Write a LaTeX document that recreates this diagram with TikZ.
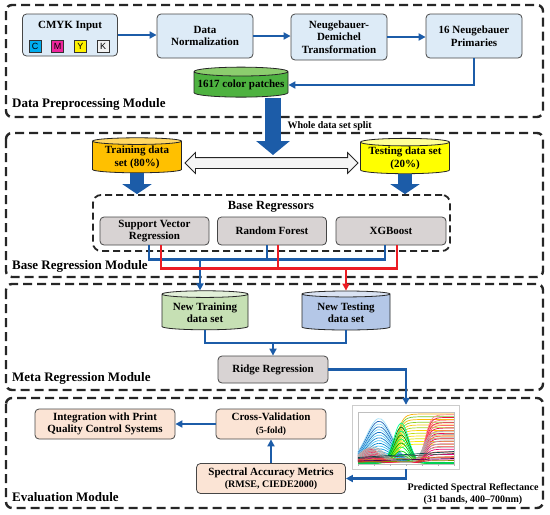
\documentclass[tikz,border=0pt]{standalone}
\usepackage{fontspec}
\setmainfont{Liberation Serif}
\newfontfamily\chipfont{Liberation Sans}
\usepackage{xcolor}
\definecolor{flowblue}{RGB}{28,92,168}
\definecolor{flowred}{RGB}{236,28,36}
\definecolor{prepfill}{RGB}{221,235,247}
\definecolor{regfill}{RGB}{216,211,211}
\definecolor{evalfill}{RGB}{251,228,213}
\definecolor{edgegray}{RGB}{70,70,70}
\definecolor{patchgreen}{RGB}{78,178,64}
\definecolor{patchtop}{RGB}{140,205,110}
\definecolor{trainorange}{RGB}{255,192,0}
\definecolor{traintop}{RGB}{255,215,100}
\definecolor{testyellow}{RGB}{255,255,0}
\definecolor{testtop}{RGB}{255,255,150}
\definecolor{newtrainfill}{RGB}{198,224,180}
\definecolor{newtraintop}{RGB}{226,240,217}
\definecolor{newtestfill}{RGB}{180,199,231}
\definecolor{newtesttop}{RGB}{218,227,243}
\usepackage{tikz}
\usetikzlibrary{arrows.meta, positioning, calc, shapes.geometric, shapes.arrows}

\begin{document}
\begin{tikzpicture}[x=1pt, y=-1pt, >={Triangle[length=7pt,width=7pt]},
  module/.style={draw=black!85, line width=2.4pt, dash pattern=on 9pt off 5pt, rounded corners=6pt},
  modlabel/.style={anchor=west, font=\fontsize{13}{15}\selectfont\bfseries, inner sep=0pt},
  box/.style={draw=edgegray, line width=0.8pt, rounded corners=4pt, align=center, font=\fontsize{11}{12.5}\selectfont\bfseries, inner sep=2pt},
  prepbox/.style={box, fill=prepfill, minimum width=96pt, minimum height=44pt},
  regbox/.style={box, fill=regfill, minimum height=28pt},
  evalbox/.style={box, fill=evalfill, minimum height=30pt},
  store/.style={cylinder, shape border rotate=90, aspect=0.1, draw=black!85, line width=0.8pt, cylinder uses custom fill, align=center, font=\fontsize{11}{12.5}\selectfont\bfseries, inner sep=1pt},
  flow/.style={->, flowblue, line width=2.2pt},
  bline/.style={flowblue, line width=2.2pt},
  rline/.style={flowred, line width=2.2pt},
  fat/.style={flowblue, line width=16pt, -{Triangle[length=14pt,width=33pt]}},
  fatsmall/.style={flowblue, line width=14pt, -{Triangle[length=10pt,width=29pt]}},
  chip/.style={draw=black!80, line width=0.7pt, minimum size=12pt, inner sep=0pt, font=\chipfont\fontsize{9}{9}\selectfont},
  curve/.style={line width=0.7pt}
]
\useasboundingbox (0,0) rectangle (550,515);

\draw[module] (6,5) rectangle (543,117);
\draw[module] (6,133) rectangle (543,277);
\draw[module] (6,284) rectangle (543,390);
\draw[module] (6,398) rectangle (543,508);
\node[modlabel] (lblprep) at (12,104) {Data Preprocessing Module};
\node[modlabel] (lblbase) at (12,266) {Base Regression Module};
\node[modlabel] (lblmeta) at (12,378) {Meta Regression Module};
\node[modlabel] (lbleval) at (12,497) {Evaluation Module};

\node[prepbox, minimum width=95pt, minimum height=42pt] (cmyk) at (70,35) {};
\node[font=\fontsize{11}{12}\selectfont\bfseries] (cmyktitle) at (70,26) {CMYK Input};
\node[chip, fill=cyan] (chipc) at (35,46) {C};
\node[chip, fill=magenta!85!white, right=10pt of chipc] (chipm) {M};
\node[chip, fill=yellow, right=10pt of chipm] (chipy) {Y};
\node[chip, fill=gray!10, right=10pt of chipy] (chipk) {K};
\node[prepbox] (norm) at (205,36) {Data\\Normalization};
\node[prepbox, minimum height=46pt] (nd) at (339,37) {Neugebauer-\\Demichel\\Transformation};
\node[prepbox] (prim) at (474,36) {16 Neugebauer\\Primaries};
\draw[flow] (cmyk.east) -- (cmyk.east -| norm.west);
\draw[flow] (norm.east) -- (norm.east -| nd.west);
\draw[flow] (nd.east) -- (nd.east -| prim.west);

\node[store, minimum width=94pt, minimum height=30pt, cylinder body fill=patchgreen, cylinder end fill=patchtop] (patches) at (241,85) {1617 color patches};
\draw[flow] (prim.south) |- (patches.east);
\coordinate (splittip) at (273,155);
\draw[fat] (patches.south -| splittip) -- (splittip);
\node[font=\fontsize{10}{12}\selectfont\bfseries, anchor=west] (splitlabel) at (284,126) {Whole data set split};

\node[store, minimum width=89pt, minimum height=35pt, cylinder body fill=trainorange, cylinder end fill=traintop] (train) at (137,157.5) {Training data\\set (80\%)};
\node[store, minimum width=89pt, minimum height=33pt, cylinder body fill=testyellow, cylinder end fill=testtop] (test) at (405,158.5) {Testing data set\\(20\%)};
\node[double arrow, draw=black!85, fill=gray!8, line width=0.8pt, minimum width=20pt, minimum height=173pt, double arrow head extend=5pt, inner sep=5pt] (swap) at (271.5,163) {};

\node[draw=black!85, line width=1.8pt, dash pattern=on 7pt off 4pt, rounded corners=8pt, minimum width=357pt, minimum height=56pt] (regframe) at (271.5,223) {};
\node[font=\fontsize{12.5}{14}\selectfont\bfseries] (regtitle) at (271,207) {Base Regressors};
\draw[fatsmall] (train.south) -- (train.south |- regframe.north);
\draw[fatsmall] (test.south) -- (test.south |- regframe.north);
\node[regbox, minimum width=109pt] (svr) at (154.5,231) {Support Vector\\Regression};
\node[regbox, minimum width=109pt] (rf) at (272,231) {Random Forest};
\node[regbox, minimum width=110pt] (xgb) at (391,231) {XGBoost};

\node[store, minimum width=86pt, minimum height=39pt, cylinder body fill=newtrainfill, cylinder end fill=newtraintop] (newtrain) at (205,312.5) {New Training\\data set};
\node[store, minimum width=88pt, minimum height=39pt, cylinder body fill=newtestfill, cylinder end fill=newtesttop] (newtest) at (346,312.5) {New Testing\\data set};

\coordinate (bluebus) at (0,259);
\coordinate (redbus) at (0,268);
\draw[bline] ($(svr.south)+(-5.5,0)$) -- ++(0,14) -| ($(xgb.south)+(-6,0)$);
\draw[bline] ($(rf.south)+(-5,0)$) -- ++(0,14);
\coordinate (dropb) at ($(newtrain.north)+(-5,0)$);
\draw[flow] (bluebus -| dropb) -- (dropb);
\draw[rline] ($(svr.south)+(6.5,0)$) -- ++(0,23) -| ($(xgb.south)+(6,0)$);
\draw[rline] ($(rf.south)+(6,0)$) -- ++(0,23);
\draw[flow, flowred] (redbus -| newtest.north) -- (newtest.north);

\node[regbox, minimum width=110pt, minimum height=27pt] (ridge) at (273,369.5) {Ridge Regression};
\coordinate (merge) at (273,343);
\draw[bline] (newtrain.south) |- (merge) -| (newtest.south);
\draw[flow] (merge) -- (ridge.north);

\node[draw=gray!40, fill=white, line width=0.4pt, minimum width=107pt, minimum height=64pt, inner sep=0pt] (plot) at (406,437) {};
\begin{scope}[shift={(358,464)}, x=96pt, y=50pt]
  \draw[gray!50, line width=0.3pt] (0,0) rectangle (1,1.03);
  \foreach \t in {0,1/6,2/6,3/6,4/6,5/6,1}
    \draw[gray!60, line width=0.3pt] (\t,0) -- (\t,-0.04);
  \foreach \i in {1,...,16} {
    \pgfmathsetmacro\a{0.055*\i}
    \pgfmathtruncatemacro\p{100-4*\i}
    \ifodd\i \def\c{cyan!\p!blue}\else \def\c{cyan!\p!white}\fi
    \draw[curve, \c] plot[domain=0:1, samples=30, smooth] (\x, {0.03+\a*exp(max(-9,-(\x-0.22)*(\x-0.22)/0.035))});
  }
  \foreach \i in {1,...,12} {
    \pgfmathsetmacro\a{0.3+0.055*\i}
    \pgfmathtruncatemacro\p{100-5*\i}
    \ifodd\i \def\c{yellow!\p!green}\else \def\c{yellow!\p!orange}\fi
    \draw[curve, \c] plot[domain=0:1, samples=30, smooth] (\x, {0.04+\a/(1+exp(min(9,max(-9,-(\x-0.4)/0.035))))});
  }
  \foreach \i in {1,...,10} {
    \pgfmathsetmacro\a{0.08*\i}
    \pgfmathtruncatemacro\p{100-6*\i}
    \ifodd\i \def\c{green!\p!black}\else \def\c{green!\p!cyan}\fi
    \draw[curve, \c] plot[domain=0:1, samples=30, smooth] (\x, {0.02+\a*exp(max(-9,-(\x-0.45)*(\x-0.45)/0.012))});
  }
  \foreach \i in {1,...,18} {
    \pgfmathsetmacro\a{0.053*\i}
    \pgfmathtruncatemacro\p{100-4*\i}
    \ifodd\i \def\c{magenta!\p!red}\else \def\c{red!\p!pink}\fi
    \draw[curve, \c] plot[domain=0:1, samples=30, smooth] (\x, {0.03+0.3*\a*exp(max(-9,-(\x-0.12)*(\x-0.12)/0.02))+\a/(1+exp(min(9,max(-9,-(\x-0.7)/0.03))))});
  }
  \foreach \i in {1,...,6} {
    \pgfmathsetmacro\a{0.3+0.08*\i}
    \draw[curve, gray!60] plot[domain=0:1, samples=30, smooth] (\x, {0.03+0.4*\a*exp(max(-9,-(\x-0.15)*(\x-0.15)/0.03))+0.8*\a/(1+exp(min(9,max(-9,-(\x-0.68)/0.035))))});
  }
  \foreach \a/\c in {0.1/black!70, 0.07/brown, 0.05/violet!60!black, 0.03/olive, 0.12/teal!60!black}
    \draw[curve, \c] plot[domain=0:1, samples=20, smooth] (\x, {0.01+\a*(1+\x)});
\end{scope}
\node[font=\fontsize{10}{12}\selectfont\bfseries, align=center] (caption) at (473,494) {Predicted Spectral Reflectance\\(31 bands, 400--700nm)};

\node[evalbox, minimum width=149pt] (metrics) at (271,478.5) {Spectral Accuracy Metrics\\{\fontsize{10}{11}\selectfont (RMSE, CIEDE2000)}};
\node[evalbox, minimum width=110pt] (cv) at (271,424) {Cross-Validation\\{\fontsize{9.5}{11}\selectfont (5-fold)}};
\node[evalbox, minimum width=140pt] (integ) at (105,424) {Integration with Print\\Quality Control Systems};
\draw[flow] (ridge.east) -| (plot.north);
\draw[flow] (plot.south) |- (metrics.east);
\draw[flow] (metrics.north) -- (cv.south);
\draw[flow] (cv.west) -- (integ.east);
\end{tikzpicture}
\end{document}
